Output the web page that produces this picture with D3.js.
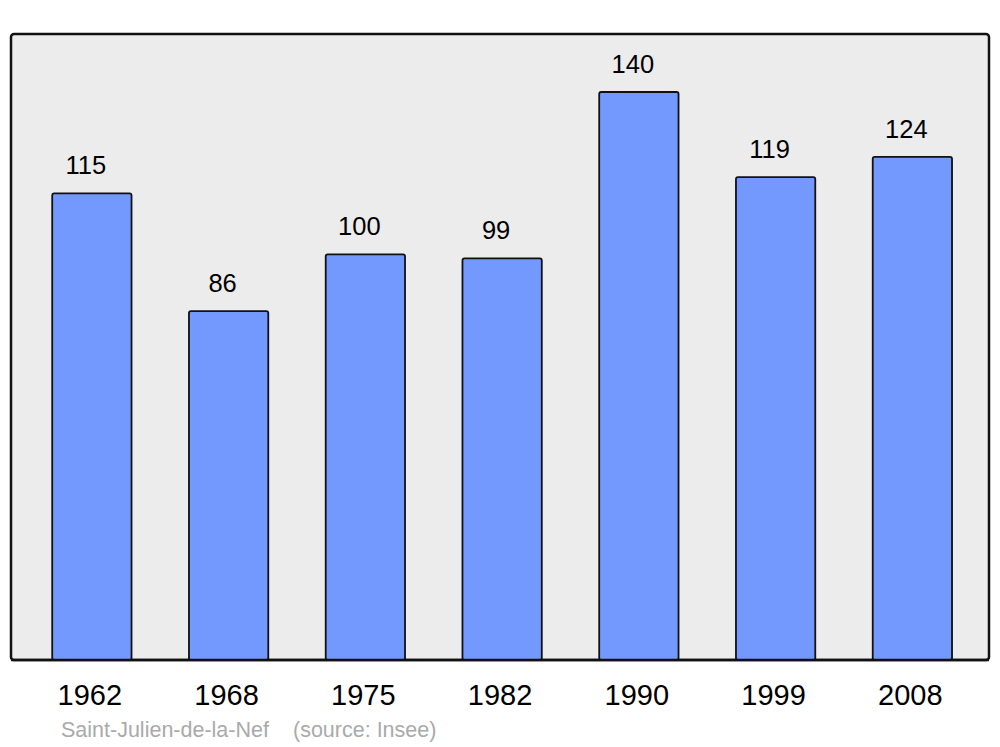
<!DOCTYPE html>
<html>
<head>
<meta charset="utf-8">
<script src="https://cdn.jsdelivr.net/npm/d3@7"></script>
<style>
  body { margin: 0; background: #fff; }
  svg { display: block; font-family: "Liberation Sans", Arial, sans-serif; }
</style>
</head>
<body>
<div id="chart"></div>
<script>
'use strict';

// population by census year
const years = ['1962', '1968', '1975', '1982', '1990', '1999', '2008'];
const population = [115, 86, 100, 99, 140, 119, 124];
const townName = 'Saint-Julien-de-la-Nef';
const sourceNote = '(source: Insee)';

const width = 1000, height = 747;
const panel = {left: 11, top: 34, right: 989, bottom: 660};

const svg = d3.select('#chart').append('svg')
    .attr('width', width)
    .attr('height', height);

// background panel
svg.append('rect')
    .attr('x', panel.left)
    .attr('y', panel.top)
    .attr('width', panel.right - panel.left)
    .attr('height', panel.bottom - panel.top)
    .attr('rx', 3)
    .attr('fill', '#ececec')
    .attr('stroke', '#111')
    .attr('stroke-width', 2.5);

const x = d3.scaleBand()
    .domain(years)
    .range([23.5, 980.75])
    .paddingInner(0.42)
    .paddingOuter(0.21);

const y = d3.scaleLinear()
    .domain([0, 140])
    .range([panel.bottom, 92]);

const data = years.map((yr, i) => ({year: yr, value: population[i]}));

// bars
svg.append('g').selectAll('rect')
    .data(data)
    .enter()
    .append('rect')
        .attr('x', d => x(d.year))
        .attr('y', d => y(d.value))
        .attr('width', x.bandwidth())
        .attr('height', d => y(0) - y(d.value))
        .attr('rx', 2)
        .attr('fill', '#7399ff')
        .attr('stroke', '#111')
        .attr('stroke-width', 1.8);

// redraw panel bottom edge over bar bottoms
svg.append('line')
    .attr('x1', panel.left)
    .attr('x2', panel.right)
    .attr('y1', panel.bottom)
    .attr('y2', panel.bottom)
    .attr('stroke', '#111')
    .attr('stroke-width', 2.5);

// value labels
svg.append('g').selectAll('text')
    .data(data)
    .enter()
    .append('text')
        .attr('x', d => x(d.year) + x.bandwidth() / 2 - 6)
        .attr('y', d => y(d.value) - 19)
        .attr('text-anchor', 'middle')
        .attr('font-size', 25.5)
        .attr('fill', '#000')
        .text(d => d.value);

// year labels
svg.append('g').selectAll('text')
    .data(data)
    .enter()
    .append('text')
        .attr('x', d => x(d.year) + x.bandwidth() / 2 - 2)
        .attr('y', 705)
        .attr('text-anchor', 'middle')
        .attr('font-size', 29)
        .attr('fill', '#000')
        .text(d => d.year);

// footer
svg.append('text')
    .attr('x', 61)
    .attr('y', 737)
    .attr('font-size', 21.5)
    .attr('fill', '#aaa')
    .text(townName);

svg.append('text')
    .attr('x', 293)
    .attr('y', 737)
    .attr('font-size', 21.5)
    .attr('fill', '#aaa')
    .text(sourceNote);
</script>
</body>
</html>
